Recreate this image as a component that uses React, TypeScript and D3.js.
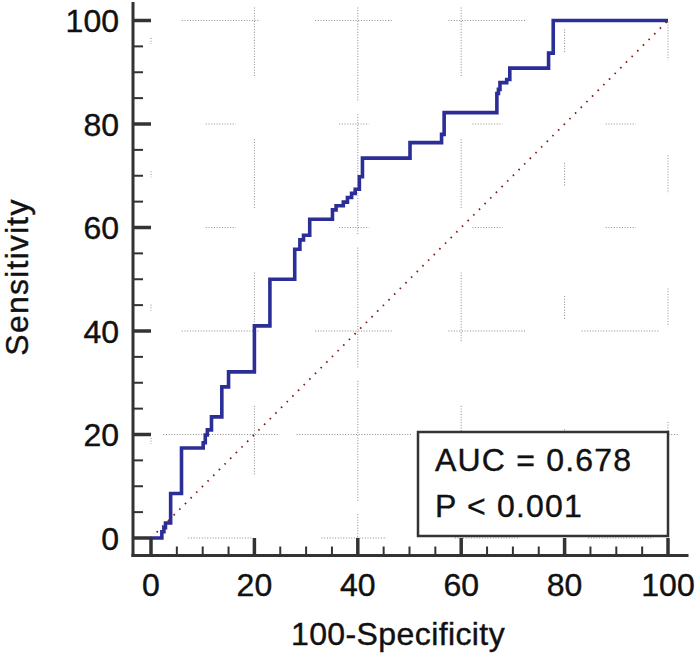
import React from 'react';
import * as d3 from 'd3';

// ROC operating points (100-Specificity, Sensitivity), drawn as steps
const fpr = [0, 2.1, 2.5, 2.8, 3.8, 5.9, 10.1, 10.5, 10.9, 11.7, 13.7, 15.0, 20.0, 23.0, 27.8, 28.8, 29.5, 30.7, 35.1, 35.8, 37.2, 38.0, 38.8, 39.5, 40.3, 40.9, 50.1, 56.2, 56.7, 66.9, 67.2, 67.5, 68.8, 69.4, 76.9, 77.8, 100];
const tpr = [0, 1.2, 2.0, 2.9, 8.6, 17.4, 18.4, 19.9, 20.9, 23.4, 29.2, 32.1, 41.0, 50.0, 55.8, 57.6, 58.5, 61.6, 63.4, 64.2, 64.9, 65.8, 66.6, 67.4, 69.8, 73.4, 76.4, 78.0, 82.2, 85.9, 86.7, 88.0, 88.6, 90.8, 93.7, 100, 100];

const majorTicks = [0, 20, 40, 60, 80, 100];
const minorTicks = [5, 10, 15, 25, 30, 35, 45, 50, 55, 65, 70, 75, 85, 90, 95];
const aucLines = ['AUC = 0.678', 'P < 0.001'];
const xTitle = '100-Specificity';
const yTitle = 'Sensitivity';

const W = 700;
const H = 660;
const FONT = '"Liberation Sans", Arial, sans-serif';

// faded dotted grid, visible in periodic windows like the original export
const gridPeriod = 133.3;
const hWindow: Record<number, number> = { 0: 65, 20: 115, 40: 78, 60: 30, 80: 30, 100: 78 };
const vWindow: Record<number, number> = { 0: 6, 20: 70, 40: 120, 60: 70, 80: 23, 100: 38 };

export default function App() {
  const x = d3.scaleLinear().domain([0, 100]).range([151, 668]);
  const y = d3.scaleLinear().domain([0, 100]).range([538, 20.5]);

  const axisX = x(0) - 18;
  const axisY = y(0) + 17.5;
  const axisTop = y(100) - 17;
  const axisRight = x(100) + 19;

  const line = d3.line<number>()
    .x((_, i) => x(fpr[i]))
    .y(d => y(d))
    .curve(d3.curveStepAfter);

  // grid segments
  const gridSegs: { x1: number; y1: number; x2: number; y2: number }[] = [];
  majorTicks.forEach(v => {
    const w = hWindow[v];
    const yy = y(v);
    for (let c = x(13.5) - gridPeriod; c < axisRight + gridPeriod; c += gridPeriod) {
      const a = Math.max(axisX + 4, c - w / 2);
      const b = Math.min(axisRight, c + w / 2);
      if (b > a) gridSegs.push({ x1: a, y1: yy, x2: b, y2: yy });
    }
  });
  majorTicks.forEach(v => {
    const w = vWindow[v];
    const xx = x(v);
    for (let c = y(100) + 20.5; c < axisY + gridPeriod; c += gridPeriod) {
      const a = Math.max(axisTop + 4, c - w / 2);
      const b = Math.min(axisY - 2, c + w / 2);
      if (b > a) gridSegs.push({ x1: xx, y1: a, x2: xx, y2: b });
    }
  });

  const boxRight = x(100);
  const boxBottom = y(0) - 2;
  const boxW = 250;
  const boxH = 104;

  return (
    <svg width={W} height={H} style={{ position: 'absolute', left: 0, top: 0, background: '#fff' }}>
      <rect width={W} height={H} fill="#fff" />
      <g stroke="#8a8a8a" strokeWidth={1} strokeDasharray="1 1.7">
        {gridSegs.map((s, i) => (
          <line key={i} x1={s.x1} y1={s.y1} x2={s.x2} y2={s.y2} />
        ))}
      </g>

      {/* diagonal reference line */}
      <line x1={x(0)} y1={y(0)} x2={x(100)} y2={y(100)} stroke="#8b1a1a" strokeWidth={1.8}
        strokeDasharray="1.6 6.4" />

      {/* ROC curve */}
      <path d={line(tpr) || ''} fill="none" stroke="#2b2e96" strokeWidth={3.6} strokeLinejoin="miter" />

      {/* axes */}
      <g stroke="#333" strokeLinecap="square">
        <line x1={axisX} y1={axisTop} x2={axisX} y2={axisY} strokeWidth={3} />
        <line x1={axisX} y1={axisY} x2={axisRight} y2={axisY} strokeWidth={3} />
        {majorTicks.map(t => (
          <line key={'ym' + t} x1={axisX} x2={x(0)} y1={y(t)} y2={y(t)} strokeWidth={3.5} strokeLinecap="butt" />
        ))}
        {minorTicks.map(t => (
          <line key={'yn' + t} x1={axisX} x2={axisX + 10} y1={y(t)} y2={y(t)} strokeWidth={2} strokeLinecap="butt" />
        ))}
        {majorTicks.map(t => (
          <line key={'xm' + t} x1={x(t)} x2={x(t)} y1={axisY} y2={y(0)} strokeWidth={3.5} strokeLinecap="butt" />
        ))}
        {minorTicks.map(t => (
          <line key={'xn' + t} x1={x(t)} x2={x(t)} y1={axisY} y2={axisY - 9} strokeWidth={2} strokeLinecap="butt" />
        ))}
      </g>

      {/* tick labels */}
      <g fontFamily={FONT} fontSize={32} fill="#111" stroke="#111" strokeWidth={0.4}>
        {majorTicks.map(t => (
          <text key={'yl' + t} x={119} y={y(t) + 11.5} textAnchor="end">{t}</text>
        ))}
        {majorTicks.map(t => (
          <text key={'xl' + t} x={x(t)} y={596} textAnchor="middle">{t}</text>
        ))}
        <text x={398} y={645} textAnchor="middle" letterSpacing={0.4}>{xTitle}</text>
        <text transform={`translate(28, ${277}) rotate(-90)`} textAnchor="middle" letterSpacing={1.2}>{yTitle}</text>
      </g>

      {/* AUC box */}
      <rect x={boxRight - boxW} y={boxBottom - boxH} width={boxW} height={boxH}
        fill="#fff" stroke="#333" strokeWidth={2.5} />
      <g fontFamily={FONT} fontSize={32} fill="#111" stroke="#111" strokeWidth={0.4} letterSpacing={1.2}>
        {aucLines.map((s, i) => (
          <text key={s} x={boxRight - boxW + 17} y={boxBottom - boxH + 38.5 + i * 46.5}>{s}</text>
        ))}
      </g>
    </svg>
  );
}
